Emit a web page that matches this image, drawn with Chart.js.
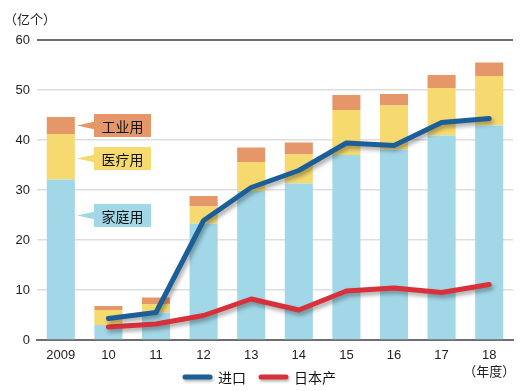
<!DOCTYPE html>
<html>
<head>
<meta charset="utf-8">
<script src="https://cdn.jsdelivr.net/npm/chart.js@4"></script>
<style>
  html, body { margin: 0; padding: 0; background: #fff; }
  #wrap { width: 520px; height: 391px; position: relative; }
</style>
</head>
<body>
<div id="wrap"><canvas id="chart" width="520" height="391"></canvas></div>
<script>
// ── Data ─────────────────────────────────────────────
const YEARS = ['2009', '10', '11', '12', '13', '14', '15', '16', '17', '18'];
const HOME = [32.1, 3.0, 5.5, 23.3, 29.8, 31.3, 37.0, 38.1, 40.9, 42.9];      // 家庭用
const MEDICAL = [9.1, 3.0, 1.7, 3.4, 5.8, 5.8, 9.0, 8.8, 9.5, 9.9];          // 医疗用
const INDUSTRY = [3.4, 0.8, 1.3, 2.1, 2.9, 2.4, 3.0, 2.3, 2.6, 2.7];         // 工业用
const IMPORT = [null, 4.3, 5.5, 23.9, 30.5, 33.9, 39.4, 38.9, 43.5, 44.3];    // 进口
const DOMESTIC = [null, 2.6, 3.2, 4.9, 8.2, 6.0, 9.8, 10.4, 9.5, 11.1];     // 日本产
const Y_TICKS = [0, 10, 20, 30, 40, 50, 60];

const C_HOME = '#a2d7e8', C_MED = '#f6da70', C_IND = '#e5976a';
const C_BLUE = '#1c5e98', C_RED = '#d8313a';
const CJK = '"Noto Sans CJK SC", "Noto Sans", sans-serif';
const NUM = '"Liberation Sans", Arial, sans-serif';

// ── Plugins ──────────────────────────────────────────
const lineShadow = {
    id: 'lineShadow',
    beforeDatasetDraw(chart, args) {
        if (args.meta.type !== 'line') return;
        const ctx = chart.ctx;
        ctx.save();
        ctx.shadowColor = 'rgba(0,0,0,0.35)';
        ctx.shadowBlur = 4;
        ctx.shadowOffsetX = 2;
        ctx.shadowOffsetY = 3;
    },
    afterDatasetDraw(chart, args) {
        if (args.meta.type !== 'line') return;
        chart.ctx.restore();
    }
};

function callout(ctx, x, y, w, h, tipX, color, text) {
    ctx.fillStyle = color;
    ctx.fillRect(x, y, w, h);
    ctx.beginPath();
    ctx.moveTo(x + 1, y + h / 2 - 4);
    ctx.lineTo(tipX, y + h / 2);
    ctx.lineTo(x + 1, y + h / 2 + 4);
    ctx.closePath();
    ctx.fill();
    ctx.fillStyle = '#111';
    ctx.font = '14px ' + CJK;
    ctx.textAlign = 'center';
    ctx.textBaseline = 'middle';
    ctx.fillText(text, x + w / 2, y + h / 2 + 1);
}

const extras = {
    id: 'extras',
    afterDraw(chart) {
        const ctx = chart.ctx;
        ctx.save();
        // unit labels
        ctx.fillStyle = '#222';
        ctx.font = '13px ' + CJK;
        ctx.textBaseline = 'middle';
        ctx.textAlign = 'left';
        ctx.fillText('（亿个）', 4, 19);
        const x = chart.scales.x;
        ctx.textAlign = 'center';
        ctx.fillText('（年度）', x.getPixelForValue(YEARS.length - 1), 371);

        // callouts
        callout(ctx, 94, 114, 57, 23, 77, C_IND, '工业用');
        callout(ctx, 94, 147, 57, 23, 77, C_MED, '医疗用');
        callout(ctx, 94, 204, 57, 23, 77, C_HOME, '家庭用');

        // legend
        const items = [[183, C_BLUE, '进口'], [259, C_RED, '日本产']];
        items.forEach(([lx, col, label]) => {
            ctx.save();
            ctx.shadowColor = 'rgba(0,0,0,0.3)';
            ctx.shadowBlur = 3;
            ctx.shadowOffsetX = 1;
            ctx.shadowOffsetY = 2;
            ctx.strokeStyle = col;
            ctx.lineWidth = 5;
            ctx.lineCap = 'round';
            ctx.beginPath();
            ctx.moveTo(lx + 2, 377);
            ctx.lineTo(lx + 27, 377);
            ctx.stroke();
            ctx.restore();
            ctx.fillStyle = '#111';
            ctx.font = '14px ' + CJK;
            ctx.textAlign = 'left';
            ctx.fillText(label, lx + 35, 378);
        });
        ctx.restore();
    }
};

// ── Chart ────────────────────────────────────────────
const barDs = (label, data, color) => ({
    type: 'bar', label, data, backgroundColor: color, borderWidth: 0,
    stack: 'use', order: 2, barPercentage: 0.59, categoryPercentage: 1
});
const lineDs = (label, data, color, stack) => ({
    type: 'line', label, data, borderColor: color, backgroundColor: color,
    borderWidth: 5, pointRadius: 0, tension: 0, stack, order: 0,
    borderCapStyle: 'round', borderJoinStyle: 'round'
});

new Chart(document.getElementById('chart'), {
    data: {
        labels: YEARS,
        datasets: [
            lineDs('进口', IMPORT, C_BLUE, 'imp'),
            lineDs('日本产', DOMESTIC, C_RED, 'dom'),
            barDs('家庭用', HOME, C_HOME),
            barDs('医疗用', MEDICAL, C_MED),
            barDs('工业用', INDUSTRY, C_IND)
        ]
    },
    options: {
        responsive: false,
        animation: false,
        layout: { padding: { top: 40, right: 7, left: 0, bottom: 0 } },
        plugins: { legend: { display: false }, tooltip: { enabled: false } },
        scales: {
            x: {
                stacked: true,
                grid: { display: false },
                border: { color: '#6e6e6e', width: 2 },
                ticks: { color: '#222', font: { family: NUM, size: 13 }, padding: 0 },
                afterFit(s) { s.height = 51; }
            },
            y: {
                stacked: true,
                min: 0, max: 60,
                afterBuildTicks(s) { s.ticks = Y_TICKS.map(v => ({ value: v })); },
                grid: {
                    color: c => c.tick && c.tick.value === 60 ? '#6e6e6e' : '#dedede',
                    lineWidth: c => c.tick && c.tick.value === 60 ? 2 : 1.5,
                    drawTicks: false
                },
                border: { display: false },
                ticks: { color: '#222', font: { family: NUM, size: 13 }, padding: 7 },
                afterFit(s) { s.width = 37; }
            }
        }
    },
    plugins: [lineShadow, extras]
});
</script>
</body>
</html>
